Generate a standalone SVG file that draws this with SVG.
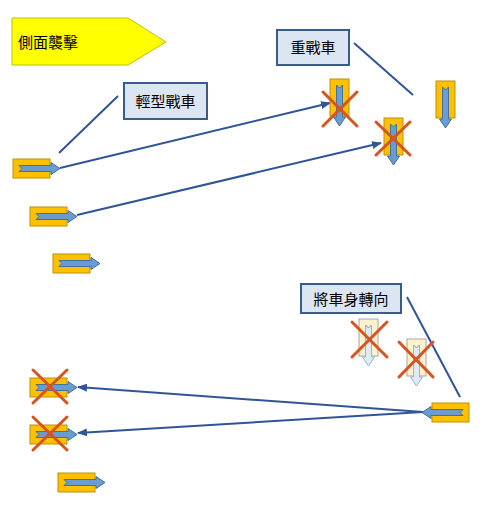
<svg xmlns="http://www.w3.org/2000/svg" width="496" height="518" viewBox="0 0 496 518">
<style>
.lbl{fill:#DCE6F2;stroke:#385D8A;stroke-width:2}
.txt{font-family:"Noto Sans CJK TC","Noto Sans CJK SC",sans-serif;font-size:15px;fill:#000}
.body{fill:#FFC000;stroke:#BF9000;stroke-width:1}
.arr{fill:#6A9BD1;stroke:#41719C;stroke-width:1}
.pbody{fill:#FFF2CC;stroke:#A6A6A6;stroke-width:1}
.parr{fill:#DEEBF7;stroke:#9DB3CC;stroke-width:1}
.x{stroke:#D5541F;stroke-width:3;stroke-linecap:round}
.con{stroke:#2F5597;stroke-width:2;fill:none}
</style>
<defs>
<marker id="ah" markerWidth="10" markerHeight="8" refX="9" refY="4" orient="auto" markerUnits="userSpaceOnUse">
<path d="M0,0 L10,4 L0,8 Z" fill="#2F5597"/>
</marker>
<g id="tank">
<rect class="body" x="0" y="0" width="37" height="19"/>
<polygon class="arr" points="6,6.5 38,6.5 38,3.5 47,9.5 38,15.5 38,12.5 6,12.5 9,9.5"/>
</g>
<g id="ptank">
<rect class="pbody" x="0" y="0" width="37" height="19"/>
<polygon class="parr" points="6,6.5 38,6.5 38,3.5 47,9.5 38,15.5 38,12.5 6,12.5 9,9.5"/>
<polyline points="6,7 9,9.5 6,12" fill="none" stroke="#9DB3CC" stroke-width="1"/>
</g>
</defs>

<g id="title">
<polygon points="12,18 128,18 166,42 128,65 12,65" fill="#FFFF00" stroke="#BFBF00" stroke-width="1"/>
<text class="txt" x="18" y="48">側面襲擊</text>
</g>

<g id="connectors">
<line class="con" x1="60" y1="168" x2="330" y2="103" marker-end="url(#ah)"/>
<line class="con" x1="77" y1="215" x2="381" y2="143" marker-end="url(#ah)"/>
<line class="con" x1="423" y1="412" x2="78" y2="387" marker-end="url(#ah)"/>
<line class="con" x1="423" y1="412" x2="78" y2="433" marker-end="url(#ah)"/>
<line class="con" x1="118" y1="96" x2="59" y2="153"/>
<line class="con" x1="354" y1="43" x2="413" y2="95"/>
<line class="con" x1="407" y1="297" x2="460" y2="397"/>
</g>

<g id="label-light">
<rect class="lbl" x="124" y="83" width="83" height="36"/>
<text class="txt" x="165.5" y="107" text-anchor="middle">輕型戰車</text>
</g>
<g id="label-heavy">
<rect class="lbl" x="277" y="30" width="72" height="35"/>
<text class="txt" x="313" y="53" text-anchor="middle">重戰車</text>
</g>
<g id="label-turn">
<rect class="lbl" x="301" y="284" width="100" height="29"/>
<text class="txt" x="351" y="305" text-anchor="middle">將車身轉向</text>
</g>

<g id="light1"><use href="#tank" transform="translate(13,159)"/></g>
<g id="light2"><use href="#tank" transform="translate(30,207)"/></g>
<g id="light3"><use href="#tank" transform="translate(53,254)"/></g>

<g id="heavy1"><use href="#tank" transform="translate(349,79) rotate(90)"/>
<line class="x" x1="323" y1="92" x2="357" y2="126"/><line class="x" x1="357" y1="92" x2="323" y2="126"/></g>
<g id="heavy2"><use href="#tank" transform="translate(403,118) rotate(90)"/>
<line class="x" x1="376" y1="122" x2="410" y2="155"/><line class="x" x1="410" y1="122" x2="376" y2="155"/></g>
<g id="heavy3"><use href="#tank" transform="translate(455,81) rotate(90)"/></g>

<g id="ghost1"><use href="#ptank" transform="translate(378,319) rotate(90)"/>
<line class="x" x1="352" y1="322" x2="387" y2="357"/><line class="x" x1="387" y1="322" x2="352" y2="357"/></g>
<g id="ghost2"><use href="#ptank" transform="translate(426,339) rotate(90)"/>
<line class="x" x1="399" y1="342" x2="433" y2="377"/><line class="x" x1="433" y1="342" x2="399" y2="377"/></g>

<g id="heavy-turned"><use href="#tank" transform="translate(469,422) rotate(180)"/></g>

<g id="light4"><use href="#tank" transform="translate(30,378)"/>
<line class="x" x1="33" y1="370" x2="67" y2="403"/><line class="x" x1="67" y1="370" x2="33" y2="403"/></g>
<g id="light5"><use href="#tank" transform="translate(30,425)"/>
<line class="x" x1="33" y1="417" x2="67" y2="450"/><line class="x" x1="67" y1="417" x2="33" y2="450"/></g>
<g id="light6"><use href="#tank" transform="translate(58,473)"/></g>
</svg>
